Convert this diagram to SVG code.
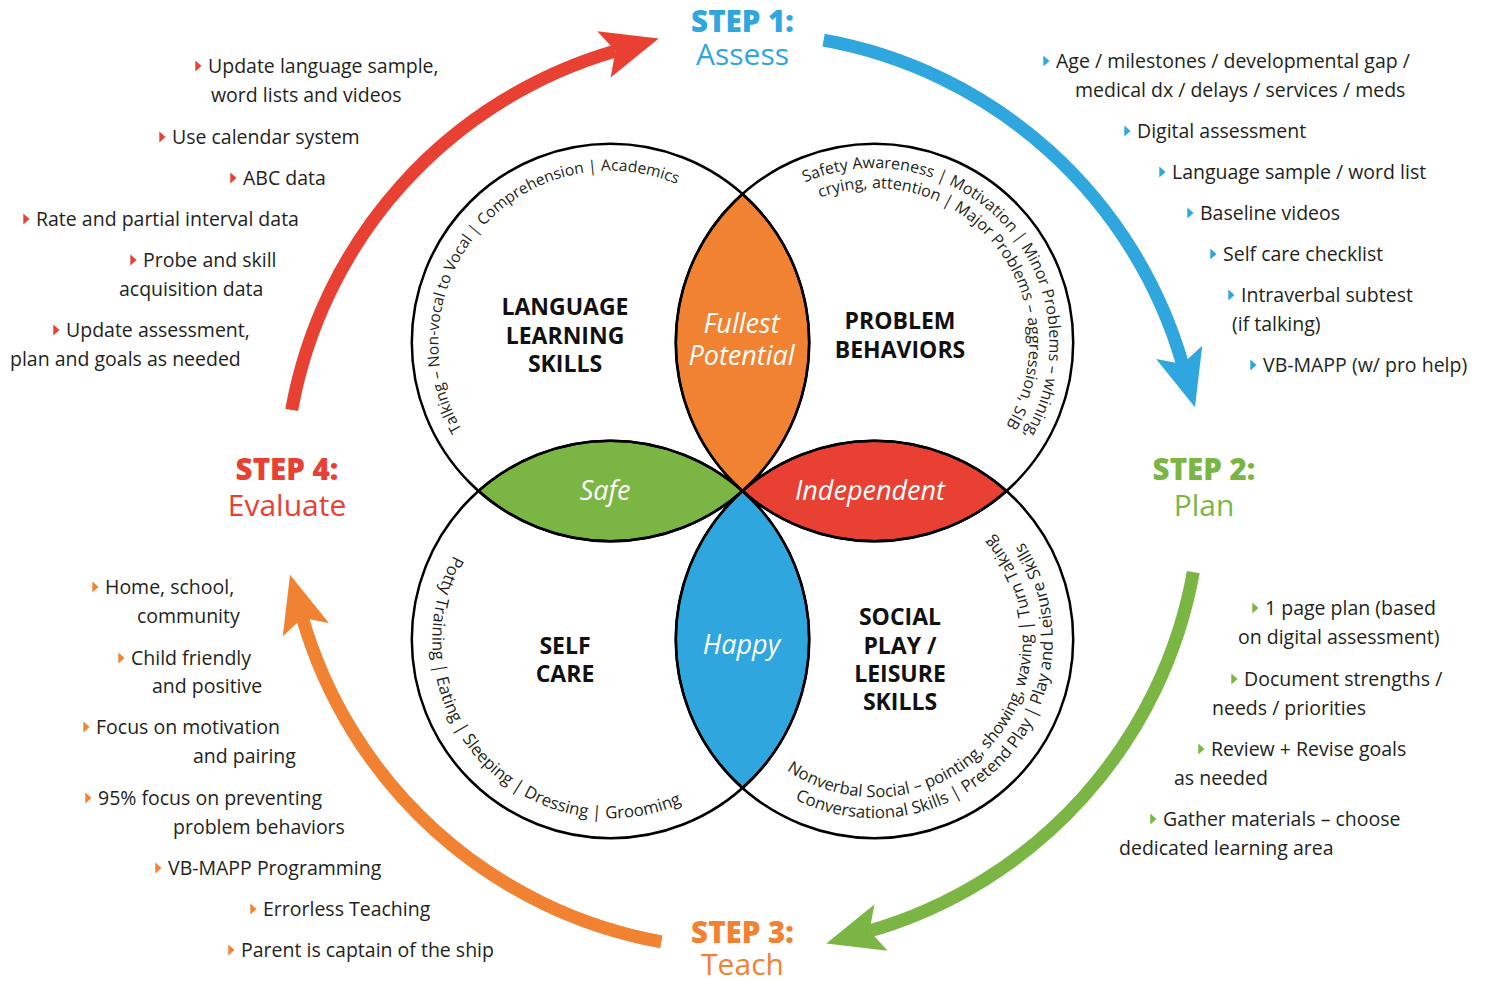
<svg xmlns="http://www.w3.org/2000/svg" xmlns:xlink="http://www.w3.org/1999/xlink" width="1487" height="981" viewBox="0 0 1487 981">
<style>
text { font-family: "Open Sans", "Noto Sans", "DejaVu Sans", sans-serif; }
.t { font-size: 19.5px; fill: #231F20; }
.lbl { font-size: 23px; font-weight: 700; fill: #111; text-anchor: middle; }
.lens-t { font-size: 27px; font-style: italic; fill: #fff; text-anchor: middle; }
.arc-t { font-size: 16px; fill: #231F20; }
.step { font-size: 29.5px; font-weight: 800; text-anchor: middle; }
.sub { font-size: 30px; text-anchor: middle; }
.ring { fill: none; stroke: #000; stroke-width: 2.5; }
.lens { stroke: #000; stroke-width: 2.5; }
.conn { fill: none; stroke-width: 13; }
.blue { fill: #2FA6DE; }
.green { fill: #7BB544; }
.orange { fill: #F08232; }
.red { fill: #E84133; }
</style>
<defs>
<path id="tri" d="M-12.7,-12.5 L-6.5,-7 L-12.7,-1.5 Z"/>
<marker id="ah-red" markerUnits="userSpaceOnUse" markerWidth="60" markerHeight="50" viewBox="0 0 60 50" refX="12" refY="24" orient="auto" overflow="visible"><path d="M57,24 L0,0 L12,24 L0,48 Z" fill="#E84133"/></marker>
<marker id="ah-blue" markerUnits="userSpaceOnUse" markerWidth="60" markerHeight="50" viewBox="0 0 60 50" refX="12" refY="24" orient="auto" overflow="visible"><path d="M57,24 L0,0 L12,24 L0,48 Z" fill="#2FA6DE"/></marker>
<marker id="ah-green" markerUnits="userSpaceOnUse" markerWidth="60" markerHeight="50" viewBox="0 0 60 50" refX="12" refY="24" orient="auto" overflow="visible"><path d="M57,24 L0,0 L12,24 L0,48 Z" fill="#7BB544"/></marker>
<marker id="ah-orange" markerUnits="userSpaceOnUse" markerWidth="60" markerHeight="50" viewBox="0 0 60 50" refX="12" refY="24" orient="auto" overflow="visible"><path d="M57,24 L0,0 L12,24 L0,48 Z" fill="#F08232"/></marker>
<path id="p-tl" d="M462.0,429.8 A172,172 0 0 1 742.3,232.4"/>
<path id="p-tr1" d="M804.7,182.5 A175,175 0 0 1 971.1,488.9"/>
<path id="p-tr2" d="M820.0,197.9 A155,155 0 0 1 953.4,476.4"/>
<path id="p-bl" d="M453.9,555.3 A178,178 0 0 0 750.0,750.6"/>
<path id="p-br1" d="M786.7,770.2 A157,157 0 0 0 973.3,518.0"/>
<path id="p-br2" d="M794.8,799.2 A178,178 0 0 0 976.6,494.2"/>
</defs>
<rect width="1487" height="981" fill="#fff"/>

<g id="lenses">
<path id="lens-fullest" class="lens orange" d="M742.5,194 A198.7,198.7 0 0 1 742.5,491 A198.7,198.7 0 0 1 742.5,194 Z"/>
<path id="lens-safe" class="lens green" d="M478.5,491 A198.7,198.7 0 0 1 742.5,491 A198.7,198.7 0 0 1 478.5,491 Z"/>
<path id="lens-independent" class="lens red" d="M742.5,491 A198.7,198.7 0 0 1 1006.5,491 A198.7,198.7 0 0 1 742.5,491 Z"/>
<path id="lens-happy" class="lens blue" d="M742.5,491 A198.7,198.7 0 0 1 742.5,788 A198.7,198.7 0 0 1 742.5,491 Z"/>
</g>

<g id="circle-language">
<circle class="ring" cx="610.5" cy="342.5" r="198.7"/>
<text class="arc-t" style="font-size:15.6px"><textPath href="#p-tl">Talking – Non-vocal to Vocal | Comprehension | Academics</textPath></text>
<text class="lbl" x="565" y="315">LANGUAGE</text>
<text class="lbl" x="565" y="343.5">LEARNING</text>
<text class="lbl" x="565" y="372">SKILLS</text>
</g>
<g id="circle-problem">
<circle class="ring" cx="874.5" cy="342.5" r="198.7"/>
<text class="arc-t"><textPath href="#p-tr1">Safety Awareness | Motivation | Minor Problems – whining,</textPath></text>
<text class="arc-t"><textPath href="#p-tr2">crying, attention | Major Problems – aggression, SIB</textPath></text>
<text class="lbl" x="900" y="328.5">PROBLEM</text>
<text class="lbl" x="900" y="357.5">BEHAVIORS</text>
</g>
<g id="circle-selfcare">
<circle class="ring" cx="610.5" cy="639.5" r="198.7"/>
<text class="arc-t" style="font-size:16.8px"><textPath href="#p-bl">Potty Training | Eating | Sleeping | Dressing | Grooming</textPath></text>
<text class="lbl" x="565" y="653.5">SELF</text>
<text class="lbl" x="565" y="681.5">CARE</text>
</g>
<g id="circle-social">
<circle class="ring" cx="874.5" cy="639.5" r="198.7"/>
<text class="arc-t" style="font-size:16.6px"><textPath href="#p-br1">Nonverbal Social – pointing, showing, waving | Turn Taking</textPath></text>
<text class="arc-t" style="font-size:16.8px"><textPath href="#p-br2">Conversational Skills | Pretend Play | Play and Leisure Skills</textPath></text>
<text class="lbl" x="900" y="625">SOCIAL</text>
<text class="lbl" x="900" y="653.5">PLAY /</text>
<text class="lbl" x="900" y="681.5">LEISURE</text>
<text class="lbl" x="900" y="709.5">SKILLS</text>
</g>

<g id="lens-labels">
<text class="lens-t" x="741.5" y="333">Fullest</text>
<text class="lens-t" x="741.5" y="364.5">Potential</text>
<text class="lens-t" x="605" y="500">Safe</text>
<text class="lens-t" x="870" y="500">Independent</text>
<text class="lens-t" x="741.5" y="653.5">Happy</text>
</g>

<g id="step1">
<text class="step blue" x="742.5" y="31.5">STEP 1:</text>
<text class="sub blue" x="742.5" y="65">Assess</text>
</g>
<g id="step2">
<text class="step green" x="1204" y="480">STEP 2:</text>
<text class="sub green" x="1204" y="516">Plan</text>
</g>
<g id="step3">
<text class="step orange" x="742.5" y="942.5">STEP 3:</text>
<text class="sub orange" x="742.5" y="975">Teach</text>
</g>
<g id="step4">
<text class="step red" x="287" y="480">STEP 4:</text>
<text class="sub red" x="287" y="516">Evaluate</text>
</g>

<g id="list-assess">
<use href="#tri" class="blue" x="1056" y="68"/>
<text class="t" x="1056" y="68">Age / milestones / developmental gap /</text>
<text class="t" x="1075" y="97">medical dx / delays / services / meds</text>
<use href="#tri" class="blue" x="1137" y="138"/>
<text class="t" x="1137" y="138">Digital assessment</text>
<use href="#tri" class="blue" x="1172" y="179"/>
<text class="t" x="1172" y="179">Language sample / word list</text>
<use href="#tri" class="blue" x="1200" y="220"/>
<text class="t" x="1200" y="220">Baseline videos</text>
<use href="#tri" class="blue" x="1223" y="261"/>
<text class="t" x="1223" y="261">Self care checklist</text>
<use href="#tri" class="blue" x="1241" y="302"/>
<text class="t" x="1241" y="302">Intraverbal subtest</text>
<text class="t" x="1232" y="331">(if talking)</text>
<use href="#tri" class="blue" x="1263" y="372"/>
<text class="t" x="1263" y="372">VB-MAPP (w/ pro help)</text>
</g>

<g id="list-plan">
<use href="#tri" class="green" x="1265" y="615"/>
<text class="t" x="1265" y="615">1 page plan (based</text>
<text class="t" x="1238" y="644">on digital assessment)</text>
<use href="#tri" class="green" x="1244" y="686"/>
<text class="t" x="1244" y="686">Document strengths /</text>
<text class="t" x="1212" y="715">needs / priorities</text>
<use href="#tri" class="green" x="1211" y="756"/>
<text class="t" x="1211" y="756">Review + Revise goals</text>
<text class="t" x="1174" y="785">as needed</text>
<use href="#tri" class="green" x="1163" y="826"/>
<text class="t" x="1163" y="826">Gather materials – choose</text>
<text class="t" x="1119" y="855">dedicated learning area</text>
</g>

<g id="list-teach">
<use href="#tri" class="orange" x="105" y="594"/>
<text class="t" x="105" y="594">Home, school,</text>
<text class="t" x="137" y="623">community</text>
<use href="#tri" class="orange" x="131" y="665"/>
<text class="t" x="131" y="665">Child friendly</text>
<text class="t" x="152" y="693">and positive</text>
<use href="#tri" class="orange" x="96" y="734"/>
<text class="t" x="96" y="734">Focus on motivation</text>
<text class="t" x="193" y="763">and pairing</text>
<use href="#tri" class="orange" x="98" y="805"/>
<text class="t" x="98" y="805">95% focus on preventing</text>
<text class="t" x="173" y="834">problem behaviors</text>
<use href="#tri" class="orange" x="168" y="875"/>
<text class="t" x="168" y="875">VB-MAPP Programming</text>
<use href="#tri" class="orange" x="263" y="916"/>
<text class="t" x="263" y="916">Errorless Teaching</text>
<use href="#tri" class="orange" x="241" y="957"/>
<text class="t" x="241" y="957">Parent is captain of the ship</text>
</g>

<g id="list-evaluate">
<use href="#tri" class="red" x="208" y="73"/>
<text class="t" x="208" y="73">Update language sample,</text>
<text class="t" x="211" y="102">word lists and videos</text>
<use href="#tri" class="red" x="172" y="144"/>
<text class="t" x="172" y="144">Use calendar system</text>
<use href="#tri" class="red" x="243" y="185"/>
<text class="t" x="243" y="185">ABC data</text>
<use href="#tri" class="red" x="36" y="226"/>
<text class="t" x="36" y="226">Rate and partial interval data</text>
<use href="#tri" class="red" x="143" y="267"/>
<text class="t" x="143" y="267">Probe and skill</text>
<text class="t" x="119" y="296">acquisition data</text>
<use href="#tri" class="red" x="66" y="337"/>
<text class="t" x="66" y="337">Update assessment,</text>
<text class="t" x="10" y="366">plan and goals as needed</text>
</g>

<g id="connectors">
<path id="arrow-assess-plan" class="conn" stroke="#2FA6DE" marker-end="url(#ah-blue)" d="M823.6,40.2 A458,458 0 0 1 1182.5,364.0"/>
<path id="arrow-plan-teach" class="conn" stroke="#7BB544" marker-end="url(#ah-green)" d="M1193.3,572.1 A458,458 0 0 1 869.5,931.0"/>
<path id="arrow-teach-evaluate" class="conn" stroke="#F08232" marker-end="url(#ah-orange)" d="M661.4,941.8 A458,458 0 0 1 302.5,618.0"/>
<path id="arrow-evaluate-assess" class="conn" stroke="#E84133" marker-end="url(#ah-red)" d="M291.7,409.9 A458,458 0 0 1 615.5,51.0"/>
</g>
</svg>
